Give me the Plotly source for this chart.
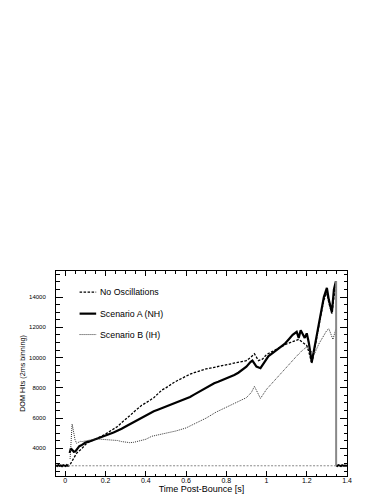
import plotly.graph_objects as go

# time axis in seconds post-bounce, values are DOM hits per 2 ms bin
t_pre = [-0.046, -0.04, -0.034, -0.028, -0.022, -0.016, -0.01, -0.004, 0.002, 0.008, 0.014, 0.02]
hits_pre = [2870, 2830, 2900, 2850, 2880, 2820, 2890, 2860, 2830, 2900, 2850, 2880]

t_post = [1.347, 1.352, 1.358, 1.364, 1.37, 1.376, 1.382, 1.388, 1.394, 1.4]
hits_post = [2880, 2840, 2900, 2860, 2830, 2890, 2850, 2870, 2840, 2860]

background_level = 2850
drop_t = 1.346

t_noosc = [0.025, 0.035, 0.045, 0.055, 0.065, 0.08, 0.1, 0.12, 0.14, 0.16, 0.18, 0.2,
           0.22, 0.24, 0.26, 0.28, 0.3, 0.32, 0.34, 0.36, 0.38, 0.4, 0.42, 0.44, 0.46,
           0.48, 0.5, 0.52, 0.54, 0.56, 0.58, 0.6, 0.62, 0.64, 0.66, 0.68, 0.7, 0.72,
           0.74, 0.76, 0.78, 0.8, 0.82, 0.84, 0.86, 0.88, 0.9, 0.92, 0.94, 0.96, 0.98,
           1.0, 1.02, 1.04, 1.06, 1.08, 1.1, 1.12, 1.14, 1.16, 1.18, 1.2, 1.21, 1.225,
           1.24, 1.255, 1.27, 1.285, 1.3, 1.31, 1.325, 1.335, 1.343]
hits_noosc = [2950, 3200, 3450, 3650, 3800, 3950, 4250, 4450, 4550, 4650, 4800, 4950,
              5100, 5300, 5450, 5700, 5900, 6150, 6400, 6650, 6850, 7000, 7150, 7350, 7600,
              7850, 8000, 8200, 8350, 8500, 8650, 8800, 8900, 9000, 9100, 9150, 9250, 9300,
              9350, 9400, 9450, 9500, 9550, 9600, 9650, 9700, 9800, 10000, 10250, 9800, 9900,
              10200, 10350, 10500, 10650, 10800, 10900, 11000, 11100, 11200, 11000, 10800, 10400, 9600,
              10600, 11800, 12800, 13800, 14300, 13600, 12900, 14000, 14700]

t_nh = [0.022, 0.028, 0.035, 0.042, 0.05, 0.06, 0.07, 0.08, 0.09, 0.1, 0.12, 0.14, 0.16,
        0.18, 0.2, 0.22, 0.24, 0.26, 0.28, 0.3, 0.32, 0.34, 0.36, 0.38, 0.4, 0.42, 0.44,
        0.46, 0.48, 0.5, 0.52, 0.54, 0.56, 0.58, 0.6, 0.62, 0.64, 0.66, 0.68, 0.7, 0.72,
        0.74, 0.76, 0.78, 0.8, 0.82, 0.84, 0.86, 0.88, 0.9, 0.92, 0.93, 0.95, 0.97, 0.99,
        1.01, 1.03, 1.05, 1.07, 1.09, 1.11, 1.13, 1.15, 1.16, 1.17, 1.18, 1.19, 1.2, 1.21,
        1.225, 1.24, 1.255, 1.27, 1.285, 1.3, 1.31, 1.325, 1.335, 1.345]
hits_nh = [3700, 4000, 3900, 3780, 3800, 3950, 4150, 4200, 4300, 4380, 4460, 4550, 4650,
           4720, 4820, 4950, 5050, 5150, 5300, 5450, 5600, 5700, 5850, 6000, 6150, 6300, 6450,
           6550, 6650, 6800, 6900, 7000, 7100, 7200, 7300, 7400, 7550, 7700, 7900, 8050, 8200,
           8300, 8400, 8500, 8600, 8750, 8850, 9000, 9200, 9400, 9700, 9800, 9400, 9300, 9700,
           10100, 10300, 10500, 10700, 10900, 11200, 11500, 11700, 11300, 11800, 11500, 11300, 11600, 11000,
           9700, 10800, 12000, 13000, 14000, 14600, 13800, 13000, 14500, 15050]

t_ih = [0.024, 0.03, 0.034, 0.04, 0.048, 0.056, 0.065, 0.075, 0.085, 0.1, 0.12, 0.14,
        0.16, 0.18, 0.2, 0.22, 0.24, 0.26, 0.28, 0.3, 0.32, 0.34, 0.36, 0.38, 0.4, 0.43,
        0.46, 0.5, 0.55, 0.6, 0.65, 0.7, 0.75, 0.8, 0.85, 0.9, 0.925, 0.94, 0.955, 0.97,
        1.0, 1.05, 1.1, 1.15, 1.18, 1.2, 1.22, 1.24, 1.26, 1.28, 1.3, 1.31, 1.33, 1.345]
hits_ih = [3300, 4800, 5600, 5200, 4600, 4340, 4400, 4460, 4450, 4500, 4550, 4600,
           4620, 4600, 4580, 4560, 4540, 4520, 4450, 4400, 4380, 4400, 4450, 4500, 4600, 4800,
           4880, 5000, 5150, 5350, 5650, 6000, 6400, 6700, 7050, 7350, 7700, 8100, 7700, 7300,
           7900, 8650, 9400, 10100, 10500, 10700, 10400, 10300, 10900, 11400, 11800, 11900, 11200, 11900]

x_ticks = [0, 0.2, 0.4, 0.6, 0.8, 1, 1.2, 1.4]
x_ticklabels = ['0', '0.2', '0.4', '0.6', '0.8', '1', '1.2', '1.4']
y_ticks = [4000, 6000, 8000, 10000, 12000, 14000]
y_ticklabels = ['4000', '6000', '8000', '10000', '12000', '14000']

series_names = ['No Oscillations', 'Scenario A (NH)', 'Scenario B (IH)']
series_lines = [
    dict(color='black', width=1.3, dash='2.5px,1.5px'),
    dict(color='black', width=2.2),
    dict(color='#333333', width=1, dash='1px,1px'),
]

fig = go.Figure()

fig.add_trace(go.Scatter(x=t_pre, y=hits_pre, mode='lines',
                         line=dict(color='black', width=2)))
fig.add_trace(go.Scatter(x=t_post, y=hits_post, mode='lines',
                         line=dict(color='black', width=2)))

fig.add_trace(go.Scatter(x=[t_pre[-2], drop_t], y=[background_level, background_level],
                         mode='lines', line=dict(color='#888888', width=1, dash='2px,1.5px')))

for tt, hh, nm, ln in zip([t_noosc, t_nh, t_ih], [hits_noosc, hits_nh, hits_ih],
                          series_names, series_lines):
    fig.add_trace(go.Scatter(x=tt, y=hh, mode='lines', name=nm, line=ln))

# vertical drop at the end of the signal
fig.add_trace(go.Scatter(x=[drop_t, drop_t], y=[hits_post[0], max(hits_nh)], mode='lines',
                         line=dict(color='#888888', width=2)))

# hand-drawn legend (short line samples, like the original)
leg_y = [0.897, 0.792, 0.69]
for yy, nm, ln in zip(leg_y, series_names, series_lines):
    fig.add_shape(type='line', xref='paper', yref='paper', x0=0.081, x1=0.138, y0=yy, y1=yy,
                  line=ln)
    fig.add_annotation(xref='paper', yref='paper', x=0.145, y=yy, text=nm, showarrow=False,
                       xanchor='left', yanchor='middle', font=dict(size=8.8, color='black'))

axis_style = dict(
    showline=True, linecolor='black', linewidth=1, mirror='allticks',
    ticks='inside', tickcolor='black', showgrid=False, zeroline=False,
    automargin=False,
)

# the page body adds an 8px offset, so the figure is 8px smaller and margins shifted
fig.update_layout(
    width=374,
    height=486,
    autosize=False,
    showlegend=False,
    margin=dict(l=48, r=35, t=263, b=18),
    paper_bgcolor='white',
    plot_bgcolor='white',
    font=dict(family='Liberation Sans, Arial, sans-serif', color='black'),
    xaxis=dict(
        axis_style,
        range=[-0.046, 1.4],
        tickvals=x_ticks, ticktext=x_ticklabels,
        ticklen=5, tickfont=dict(size=7, color='black'), ticklabelstandoff=-2,
        minor=dict(ticks='inside', ticklen=2.5, dtick=0.05, tick0=0, tickcolor='black'),
        title=dict(text='Time Post-Bounce [s]', font=dict(size=9, color='black'), standoff=0),
    ),
    yaxis=dict(
        axis_style,
        range=[2175, 15720],
        tickvals=y_ticks, ticktext=y_ticklabels,
        ticklen=7, tickfont=dict(size=6, color='black'), ticklabelstandoff=8,
        minor=dict(ticks='inside', ticklen=3.5, dtick=500, tick0=0, tickcolor='black'),
        title=dict(text='DOM Hits (2ms binning)', font=dict(size=7.2, color='black'), standoff=2),
    ),
)

fig.write_html("out.html")
